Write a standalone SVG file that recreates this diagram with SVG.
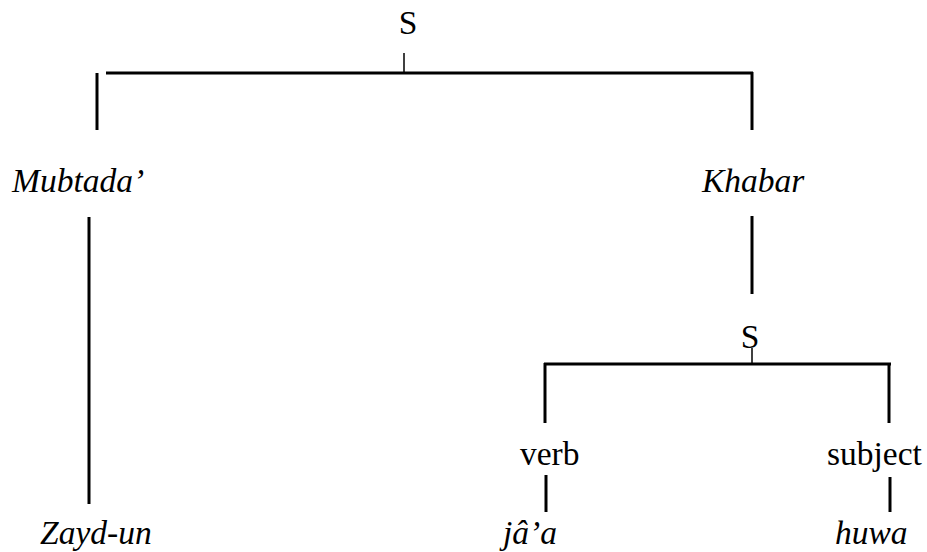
<svg xmlns="http://www.w3.org/2000/svg" width="927" height="552" viewBox="0 0 927 552">
<style>
text{font-family:"Liberation Serif","Times New Roman",serif;font-size:33.5px;fill:#000}
.i{font-style:italic}
line{stroke:#000;stroke-width:3;stroke-linecap:butt}
.t{stroke-width:1.5}
</style>
<rect width="927" height="552" fill="#fff"/>
<g id="connectors">
<line class="t" x1="404" y1="53" x2="404" y2="72"/>
<line x1="106" y1="73" x2="753" y2="73"/>
<line x1="97" y1="73" x2="97" y2="130"/>
<line x1="752" y1="72" x2="752" y2="130"/>
<line x1="89" y1="217" x2="89" y2="504"/>
<line x1="752" y1="216" x2="752" y2="294"/>
<line class="t" x1="752" y1="348" x2="752" y2="364"/>
<line x1="544" y1="364" x2="891" y2="364"/>
<line x1="545" y1="363" x2="545" y2="423"/>
<line x1="889" y1="363" x2="889" y2="423"/>
<line x1="546" y1="475" x2="546" y2="512"/>
<line x1="890" y1="477" x2="890" y2="512"/>
</g>
<g id="S1"><text x="408" y="34" text-anchor="middle">S</text></g>
<g id="mubtada"><text class="i" x="12" y="192">Mubtada’</text></g>
<g id="khabar"><text class="i" x="702" y="192">Khabar</text></g>
<g id="zayd"><text class="i" x="40" y="544">Zayd-un</text></g>
<g id="S2"><text x="750" y="348" text-anchor="middle">S</text></g>
<g id="verb"><text x="520" y="465">verb</text></g>
<g id="subject"><text x="827" y="465">subject</text></g>
<g id="jaa"><text class="i" x="503" y="544">jâ’a</text></g>
<g id="huwa"><text class="i" x="835" y="544">huwa</text></g>
</svg>
